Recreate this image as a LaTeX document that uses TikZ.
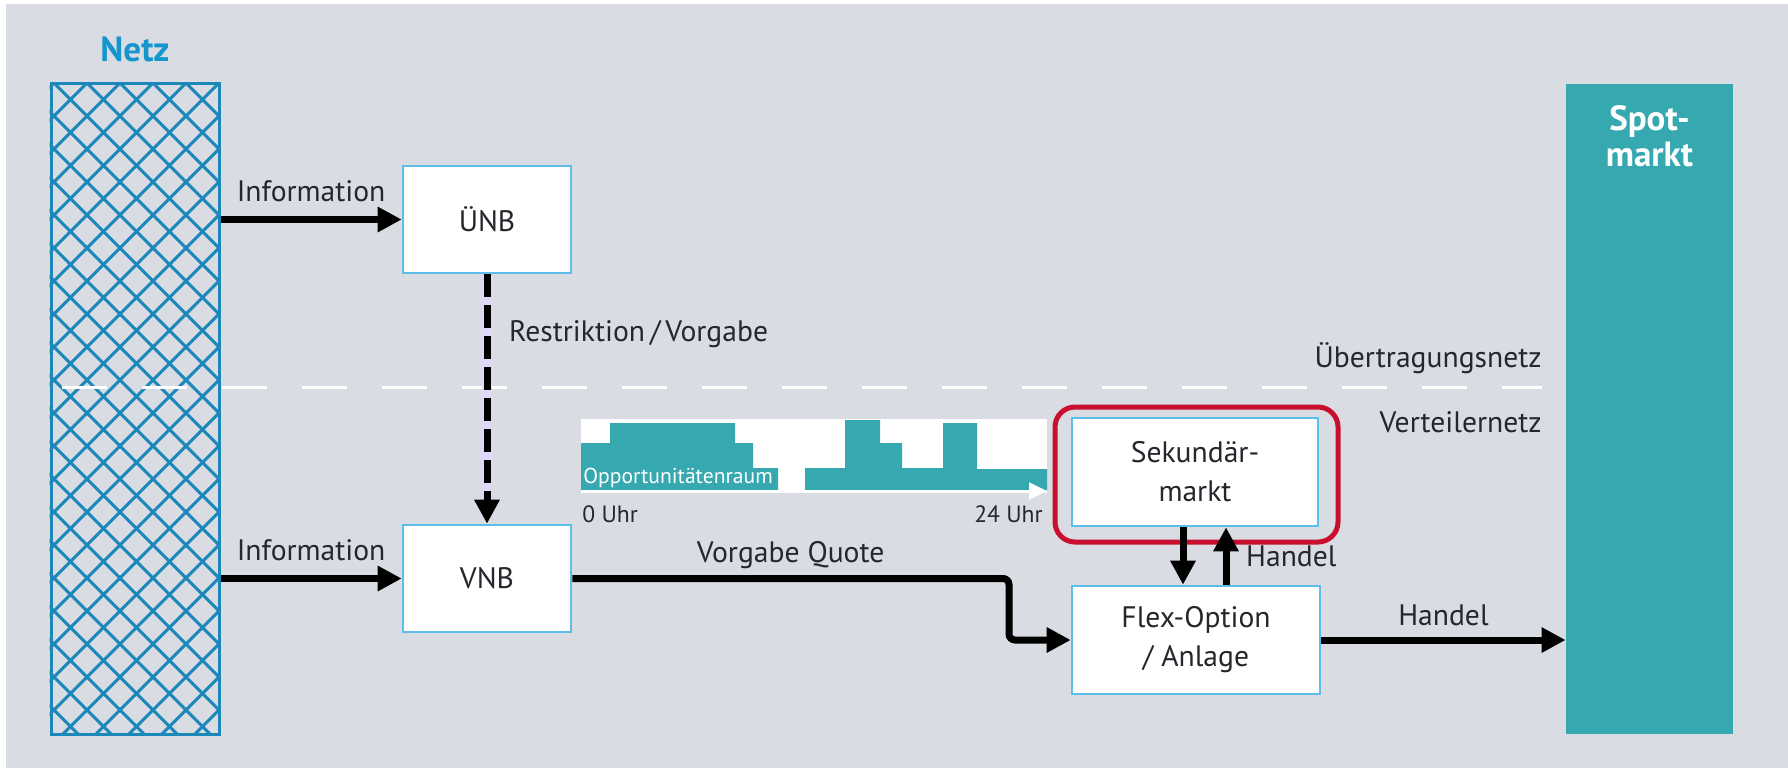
\documentclass[tikz,border=0pt]{standalone}
\usepackage{fontspec}
\setmainfont{PT Sans}
\usetikzlibrary{arrows.meta}

\definecolor{grund}{RGB}{217,220,227}
\definecolor{netzblau}{RGB}{28,135,185}
\definecolor{titelblau}{RGB}{20,150,205}
\definecolor{rahmen}{RGB}{92,189,233}
\definecolor{petrol}{RGB}{54,168,176}
\definecolor{markrot}{RGB}{200,16,46}
\definecolor{schrift}{RGB}{38,38,44}
\definecolor{lila}{RGB}{222,216,250}

\begin{document}
\begin{tikzpicture}[x=0.5pt,y=-0.5pt,
    font=\fontsize{14.8}{19.5}\selectfont, text=schrift,
    kasten/.style={draw=rahmen,line width=1.3pt,fill=white,align=center,inner sep=0pt},
    pfeil/.style={line width=3.5pt,-{Triangle[length=12pt,width=12pt]}},
    klein/.style={font=\fontsize{11.8}{13}\selectfont,inner sep=0pt}]
  % background
  \useasboundingbox (0,0) rectangle (1788,768);
  \fill[white] (0,0) rectangle (1788,768);
  \fill[grund] (6,4) rectangle (1788,768);

  % Netz column, cross hatched
  \node[draw=netzblau,line width=1.5pt,minimum width=84pt,minimum height=325.5pt,inner sep=0pt] (netz) at (135,408.5) {};
  \begin{scope}
    \clip (netz.south west) rectangle (netz.north east);
    \foreach \k in {-22,...,25} {
      \draw[netzblau,line width=1.5pt] (87+33*\k,83) -- ++(700,700);
      \draw[netzblau,line width=1.5pt] (87+33*\k,83) -- ++(-700,700);
    }
  \end{scope}
  \node[font=\fontsize{17.5}{19}\selectfont\bfseries,text=titelblau,above=6pt] (netztitel) at (netz.north) {Netz};

  % Spotmarkt column
  \node[fill=petrol,minimum width=83.5pt,minimum height=325pt,inner sep=0pt] (spot) at (1649.5,409) {};
  \node[font=\fontsize{17.5}{18}\selectfont\bfseries,text=white,align=center,below=7.5pt] (spottitel) at (spot.north) {Spot-\\markt};

  % border between the two grids
  \coordinate (grenzeL) at (62,387);
  \coordinate (grenzeR) at (1542,387);
  \draw[white,line width=1.5pt,dash pattern=on 22.5pt off 17.5pt] (grenzeL) -- (grenzeR);
  \node[anchor=base east,inner sep=0pt] (uenetz) at (1542,367) {Übertragungsnetz};
  \node[anchor=base east,inner sep=0pt] (vtnetz) at (1542,432) {Verteilernetz};

  % boxes
  \node[kasten,minimum width=84pt,minimum height=53.5pt] (unb) at (487,219.5) {ÜNB};
  \node[kasten,minimum width=84pt,minimum height=53.5pt] (vnb) at (487,578.5) {VNB};
  \node[draw=markrot,line width=2.5pt,rounded corners=10pt,minimum width=141.5pt,minimum height=67.5pt] (markierung) at (1196.5,474.5) {};
  \node[kasten,minimum width=123pt,minimum height=54pt] (sek) at (1195,472) {Sekundär-\\markt};
  \node[kasten,minimum width=124pt,minimum height=54pt] (flex) at (1196,640) {Flex-Option\\/ Anlage};

  % Opportunitaetenraum
  \node[fill=white,minimum width=233pt,minimum height=37pt,inner sep=0pt] (chart) at (814,456) {};
  \fill[petrol] (581,490) -- (581,443) -- (610,443) -- (610,423) -- (735,423) -- (735,443)
    -- (753,443) -- (753,468) -- (778,468) -- (778,490) -- cycle;
  \fill[petrol] (805,490) -- (805,468) -- (845,468) -- (845,420) -- (880,420) -- (880,443)
    -- (902,443) -- (902,468) -- (943,468) -- (943,423) -- (977,423) -- (977,469)
    -- (1047,469) -- (1047,490) -- cycle;
  \coordinate (achse0) at (581,491);
  \coordinate (achse24) at (1047,491);
  \draw[white,line width=1pt,-{Triangle[length=9pt,width=8.5pt]}] (achse0) -- (achse24);
  \node[klein,font=\fontsize{10.8}{12}\selectfont,anchor=base west,text=white] (raum) at (583,483) {Opportunitätenraum};
  \node[klein,anchor=base west] (uhr0) at (582,522) {0 Uhr};
  \node[klein,anchor=base east] (uhr24) at (1043,522) {24 Uhr};

  % arrows
  \draw[pfeil] (netz.east |- unb.west) -- node[above=3.5pt] (info1) {Information} (unb.west);
  \draw[pfeil] (netz.east |- vnb.west) -- node[above=3.5pt] (info2) {Information} (vnb.west);
  \draw[lila,line width=5pt] (unb.south) -- ([yshift=12pt]vnb.north);
  \draw[pfeil,dash pattern=on 11.5pt off 4pt] (unb.south) -- node[right=6pt,pos=0.24] (restr) {Restriktion\,/\,Vorgabe} (vnb.north);
  \coordinate (knick) at (1009,0);
  \draw[pfeil,rounded corners=3pt] (vnb.east) -- node[above] (quote) {Vorgabe Quote} (vnb.east -| knick) |- (flex.west);
  \draw[pfeil] ([xshift=-6pt]sek.south) -- ([xshift=-6pt]sek.south |- flex.north);
  \draw[pfeil] ([xshift=15.5pt]sek.south |- flex.north) -- node[right=5pt] (handel1) {Handel} ([xshift=15.5pt]sek.south);
  \draw[pfeil] (flex.east) -- node[above=2pt] (handel2) {Handel} (flex.east -| spot.west);
\end{tikzpicture}
\end{document}
